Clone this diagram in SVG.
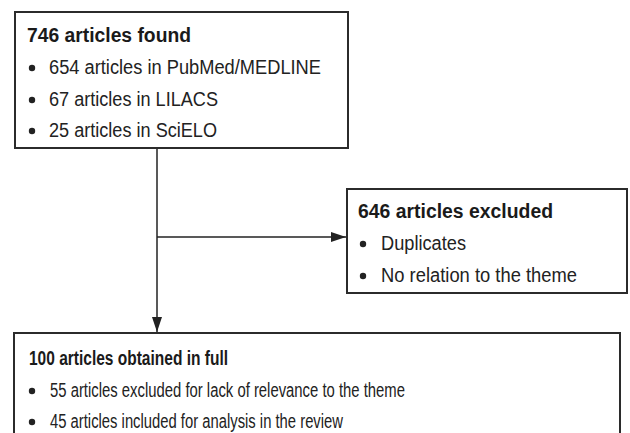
<svg xmlns="http://www.w3.org/2000/svg" width="630" height="433" viewBox="0 0 630 433">
<style>
.box{fill:#fff;stroke:#2b2b2b;stroke-width:2}
.t{font-family:"Liberation Sans",Arial,sans-serif;font-size:20px;fill:#222}
.b{font-weight:bold;fill:#1a1a1a}
.dot{fill:#222}
.conn{stroke:#222;stroke-width:1.5;fill:none}
</style>
<defs>
<marker id="arr" markerWidth="15" markerHeight="10" refX="15" refY="5" orient="auto" markerUnits="userSpaceOnUse">
<path d="M0,0 L15,5 L0,10 Z" fill="#222"/>
</marker>
</defs>
<rect width="630" height="433" fill="#fff"/>
<g id="connectors">
<line class="conn" x1="157" y1="148" x2="157" y2="332" marker-end="url(#arr)"/>
<line class="conn" x1="157" y1="237" x2="346" y2="237" marker-end="url(#arr)"/>
</g>
<g id="found">
<rect class="box" x="15" y="12" width="333" height="136"/>
<text class="t b" x="27" y="42" textLength="164" lengthAdjust="spacingAndGlyphs">746 articles found</text>
<circle class="dot" cx="32" cy="68" r="3.2"/>
<text class="t" x="49" y="74" textLength="272" lengthAdjust="spacingAndGlyphs">654 articles in PubMed/MEDLINE</text>
<circle class="dot" cx="32" cy="100" r="3.2"/>
<text class="t" x="49" y="106" textLength="169" lengthAdjust="spacingAndGlyphs">67 articles in LILACS</text>
<circle class="dot" cx="32" cy="131" r="3.2"/>
<text class="t" x="49" y="137" textLength="168" lengthAdjust="spacingAndGlyphs">25 articles in SciELO</text>
</g>
<g id="excluded">
<rect class="box" x="347" y="189" width="280" height="104"/>
<text class="t b" x="358" y="218" textLength="195" lengthAdjust="spacingAndGlyphs">646 articles excluded</text>
<circle class="dot" cx="363" cy="244" r="3.2"/>
<text class="t" x="381" y="250" textLength="85" lengthAdjust="spacingAndGlyphs">Duplicates</text>
<circle class="dot" cx="363" cy="276" r="3.2"/>
<text class="t" x="381" y="282" textLength="196" lengthAdjust="spacingAndGlyphs">No relation to the theme</text>
</g>
<g id="full">
<rect class="box" x="14" y="333" width="606" height="110"/>
<text class="t b" x="29" y="365" textLength="199" lengthAdjust="spacingAndGlyphs">100 articles obtained in full</text>
<circle class="dot" cx="32" cy="391" r="3.2"/>
<text class="t" x="50" y="397" textLength="355" lengthAdjust="spacingAndGlyphs">55 articles excluded for lack of relevance to the theme</text>
<circle class="dot" cx="32" cy="422" r="3.2"/>
<text class="t" x="50" y="428" textLength="293" lengthAdjust="spacingAndGlyphs">45 articles included for analysis in the review</text>
</g>
</svg>
